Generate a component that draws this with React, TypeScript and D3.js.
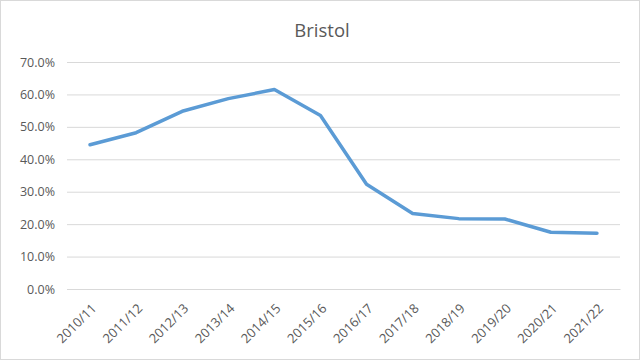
import { useEffect, useRef } from "react";
import * as d3 from "d3";

const years = [
  "2010/11", "2011/12", "2012/13", "2013/14", "2014/15", "2015/16",
  "2016/17", "2017/18", "2018/19", "2019/20", "2020/21", "2021/22",
];
const rates = [0.445, 0.482, 0.548, 0.587, 0.615, 0.535, 0.323, 0.233, 0.217, 0.216, 0.175, 0.172];
const yTicks = [0, 0.1, 0.2, 0.3, 0.4, 0.5, 0.6, 0.7];

const W = 640;
const H = 360;
const FONT = "'Open Sans', 'Noto Sans', sans-serif";

export default function App() {
  const ref = useRef<SVGSVGElement | null>(null);

  useEffect(() => {
    if (!ref.current) return;
    const svg = d3.select(ref.current);
    svg.selectAll("*").remove();

    const margin = { top: 62, right: 20, bottom: 71, left: 67 };
    const innerW = W - margin.left - margin.right;
    const innerH = H - margin.top - margin.bottom;

    svg.append("rect")
      .attr("x", 0.5).attr("y", 0.5)
      .attr("width", W - 1).attr("height", H - 1)
      .attr("fill", "#fff").attr("stroke", "#d9d9d9");

    svg.append("text")
      .attr("x", W / 2 + 2).attr("y", 37)
      .attr("text-anchor", "middle")
      .attr("font-family", FONT).attr("font-size", 18.5)
      .attr("fill", "#595959")
      .text("Bristol");

    const g = svg.append("g").attr("transform", `translate(${margin.left},${margin.top})`);

    const x = d3.scaleBand().domain(years).range([0, innerW]);
    const y = d3.scaleLinear().domain([0, 0.7]).range([innerH, 0]);

    const yAxis = g.append("g")
      .call(d3.axisLeft(y).tickValues(yTicks).tickFormat(d3.format(".1%")).tickSize(-innerW).tickPadding(12));
    yAxis.select(".domain").remove();
    yAxis.selectAll(".tick line").attr("stroke", "#d9d9d9").attr("stroke-width", 1);
    yAxis.selectAll(".tick text")
      .attr("font-family", FONT).attr("font-size", 12.5).attr("fill", "#595959");

    const xAxis = g.append("g")
      .attr("transform", `translate(0,${innerH})`)
      .call(d3.axisBottom(x).tickSize(0));
    xAxis.select(".domain").attr("stroke", "#d9d9d9");
    xAxis.selectAll(".tick text")
      .attr("font-family", FONT).attr("font-size", 13).attr("fill", "#595959")
      .attr("text-anchor", "end")
      .attr("dy", 0)
      .attr("transform", "translate(5,18) rotate(-45)");

    const line = d3.line<number>()
      .x((_, i) => (x(years[i]) ?? 0) + x.bandwidth() / 2)
      .y((d) => y(d));

    g.append("path")
      .datum(rates)
      .attr("fill", "none")
      .attr("stroke", "#5b9bd5")
      .attr("stroke-width", 3.5)
      .attr("stroke-linejoin", "round")
      .attr("stroke-linecap", "round")
      .attr("d", line);
  }, []);

  return (
    <div style={{ position: "fixed", left: 0, top: 0 }}>
      <svg ref={ref} width={W} height={H} style={{ display: "block" }} />
    </div>
  );
}
